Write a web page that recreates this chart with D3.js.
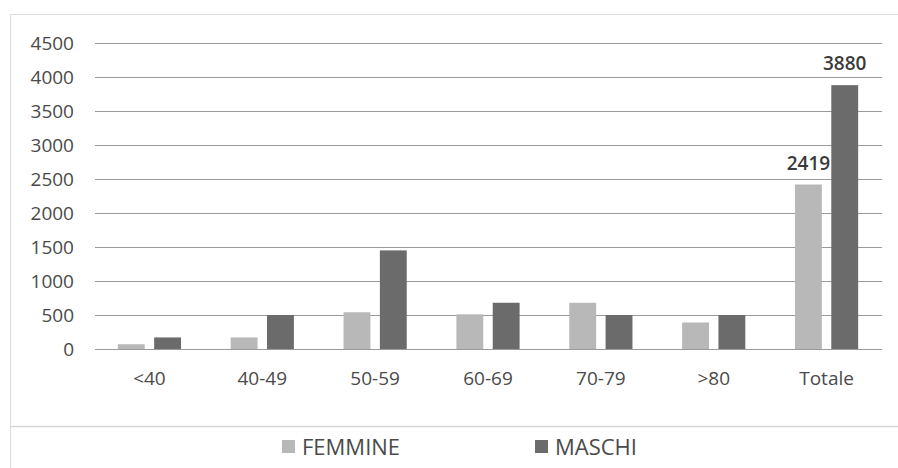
<!DOCTYPE html>
<html>
<head>
<meta charset="utf-8">
<script src="https://cdn.jsdelivr.net/npm/d3@7"></script>
<style>
  body { margin: 0; background: #fff; }
  svg { display: block; }
</style>
</head>
<body>
<div id="chart"></div>
<script>
const categories = ['<40', '40-49', '50-59', '60-69', '70-79', '>80', 'Totale']
const femmine = [70, 170, 540, 510, 680, 390, 2419]
const maschi = [170, 500, 1450, 680, 500, 500, 3880]
const yTicks = [0, 500, 1000, 1500, 2000, 2500, 3000, 3500, 4000, 4500]
const seriesNames = ['FEMMINE', 'MASCHI']
// only the totals carry a value label in the original
const labelled = ['Totale']

const width = 898
const height = 468
const margin = { left: 93, right: 15, top: 43, bottom: 119 }
const colors = ['#b8b8b8', '#6b6b6b']
const font = "'Open Sans', 'Noto Sans', sans-serif"

const svg = d3.select('#chart').append('svg')
    .attr('width', width)
    .attr('height', height)

// dotted frame and legend separator
svg.append('rect')
    .attr('x', 10.5).attr('y', 14.5)
    .attr('width', width - 10).attr('height', height)
    .attr('fill', 'none')
    .attr('stroke', '#bbb')
    .attr('stroke-dasharray', '1,1')
svg.append('line')
    .attr('x1', 10).attr('x2', width)
    .attr('y1', 426.5).attr('y2', 426.5)
    .attr('stroke', '#d6d6d6').attr('stroke-width', 1.5)

const y = d3.scaleLinear()
    .domain([0, 4500])
    .range([349, margin.top])

const x = d3.scaleBand()
    .domain(categories)
    .range([margin.left, width - margin.right])
    .paddingInner(0.44)
    .paddingOuter(0.22)

const x1 = d3.scaleBand()
    .domain(seriesNames)
    .range([0, x.bandwidth()])
    .paddingInner(0.26)

// gridlines
svg.append('g')
    .selectAll('line')
    .data(yTicks)
    .join('line')
    .attr('x1', 95).attr('x2', 882)
    .attr('y1', d => Math.round(y(d)) + 0.5)
    .attr('y2', d => Math.round(y(d)) + 0.5)
    .attr('stroke', '#9a9a9a')
    .attr('stroke-width', 1)

// y tick labels
svg.append('g')
    .style('font', `19px ${font}`)
    .attr('fill', '#4a4a4a')
    .selectAll('text')
    .data(yTicks)
    .join('text')
    .attr('x', 74)
    .attr('y', d => y(d))
    .attr('dy', '0.35em')
    .attr('text-anchor', 'end')
    .text(d => d)

const rows = categories.map((c, i) => ({ cat: c, values: [femmine[i], maschi[i]] }))

const groups = svg.append('g')
    .selectAll('g')
    .data(rows)
    .join('g')
    .attr('transform', d => `translate(${x(d.cat)},0)`)

groups.selectAll('rect')
    .data(d => d.values.map((v, k) => ({ name: seriesNames[k], value: v, k: k, cat: d.cat })))
    .join('rect')
    .attr('x', d => x1(d.name))
    .attr('y', d => y(d.value))
    .attr('width', x1.bandwidth())
    .attr('height', d => y(0) - y(d.value))
    .attr('fill', d => colors[d.k])
    .append('title')
    .text(d => `${d.name} ${d.cat}: ${d.value}`)

groups.selectAll('text.val')
    .data(d => labelled.includes(d.cat) ? d.values.map((v, k) => ({ name: seriesNames[k], value: v })) : [])
    .join('text')
    .attr('class', 'val')
    .attr('x', d => x1(d.name) + x1.bandwidth() / 2)
    .attr('y', d => y(d.value) - 15)
    .attr('text-anchor', 'middle')
    .style('font', `600 19px ${font}`)
    .attr('fill', '#3a3a3a')
    .text(d => d.value)

// x labels
svg.append('g')
    .style('font', `19px ${font}`)
    .attr('fill', '#4a4a4a')
    .selectAll('text')
    .data(categories)
    .join('text')
    .attr('x', d => x(d) + x.bandwidth() / 2)
    .attr('y', 378)
    .attr('dy', '0.35em')
    .attr('text-anchor', 'middle')
    .text(d => d)

// legend
const legendX = [282, 535]
const legend = svg.append('g')
    .selectAll('g')
    .data(seriesNames)
    .join('g')
    .attr('transform', (d, i) => `translate(${legendX[i]},440)`)
legend.append('rect')
    .attr('width', 13).attr('height', 13)
    .attr('fill', (d, i) => colors[i])
legend.append('text')
    .attr('x', 20)
    .attr('y', 7)
    .attr('dy', '0.35em')
    .style('font', `22px ${font}`)
    .attr('fill', '#4a4a4a')
    .text(d => d)
</script>
</body>
</html>
